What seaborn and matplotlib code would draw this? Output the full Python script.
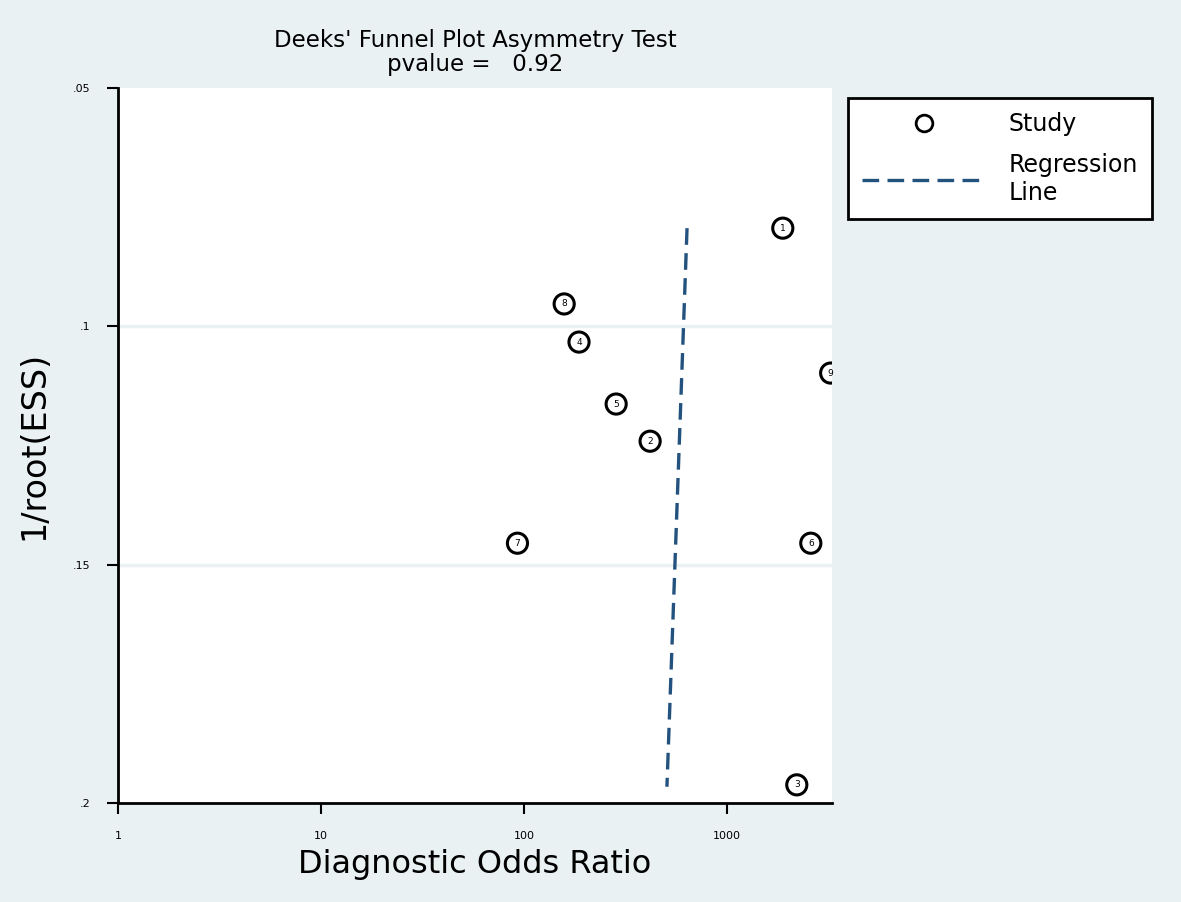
import matplotlib
matplotlib.use('Agg')
import matplotlib.pyplot as plt
from matplotlib.lines import Line2D
import seaborn as sns
import pandas as pd

# study points
study_ids = ['1', '8', '4', '5', '2', '7', '9', '6', '3']
dor = [1888, 158, 187, 285, 419, 93, 3250, 2594, 2213]
inv_root_ess = [0.0794, 0.0953, 0.1033, 0.1163, 0.1241, 0.1455, 0.1098, 0.1455, 0.1962]

# fitted regression line end points
reg_y = [0.0794, 0.1966]
reg_x = [637, 507]

x_ticks = [1, 10, 100, 1000]
x_tick_labels = ['1', '10', '100', '1000']
y_ticks = [0.05, 0.1, 0.15, 0.2]
y_tick_labels = ['.05', '.1', '.15', '.2']

bg = '#eaf1f3'
line_col = '#24527f'

sns.set_theme(style='white')
plt.rcParams['font.family'] = ['DejaVu Sans']
plt.rcParams['text.color'] = 'black'
plt.rcParams['axes.labelcolor'] = 'black'
plt.rcParams['xtick.color'] = 'black'
plt.rcParams['ytick.color'] = 'black'

studies = pd.DataFrame({'dor': dor, 'y': inv_root_ess, 'id': study_ids})
reg = pd.DataFrame({'dor': reg_x, 'y': reg_y})

fig = plt.figure(figsize=(11.81, 9.02), dpi=100, facecolor=bg)
ax = fig.add_axes([0.0999, 0.1098, 0.6046, 0.7926])
ax.set_facecolor('white')

for yy in [0.1, 0.15]:
    ax.axhline(yy, color=bg, lw=2.5, zorder=0)

sns.lineplot(data=reg, x='dor', y='y', ax=ax, color=line_col, lw=2.4,
             linestyle=(0, (5, 2.5)), sort=False, estimator=None, zorder=2)
sns.scatterplot(data=studies, x='dor', y='y', ax=ax, s=210, marker='o',
                facecolor='none', edgecolor='black', linewidth=2.2, zorder=3)
for _, r in studies.iterrows():
    ax.text(r['dor'], r['y'], r['id'], fontsize=6.5, ha='center', va='center',
            color='black', zorder=4)

ax.set_xscale('log')
ax.set_xlim(1, 3300)
ax.set_ylim(0.2, 0.05)
ax.set_xticks(x_ticks)
ax.set_xticklabels(x_tick_labels)
ax.minorticks_off()
ax.set_yticks(y_ticks)
ax.set_yticklabels(y_tick_labels)
ax.tick_params(axis='both', which='major', labelsize=8, length=8, width=1.5,
               direction='out', left=True, bottom=True, pad=12)

for side in ['top', 'right']:
    ax.spines[side].set_visible(False)
for side in ['left', 'bottom']:
    ax.spines[side].set_color('black')
    ax.spines[side].set_linewidth(2)

ax.set_xlabel('Diagnostic Odds Ratio', fontsize=23, labelpad=6)
ax.set_ylabel('1/root(ESS)', fontsize=24, labelpad=16)
ax.set_title("Deeks' Funnel Plot Asymmetry Test\npvalue =   0.92",
             fontsize=16.5, linespacing=1.1, pad=12)

handles = [
    Line2D([], [], marker='o', linestyle='none', markerfacecolor='none',
           markeredgecolor='black', markeredgewidth=2, markersize=12),
    Line2D([], [], color=line_col, lw=2.4, linestyle=(0, (5, 2.5))),
]
leg = fig.legend(handles, ['Study', 'Regression\nLine'], loc='upper left',
                 bbox_to_anchor=(0.718, 0.891), borderaxespad=0, fontsize=17,
                 frameon=True, fancybox=False, facecolor='white', framealpha=1,
                 edgecolor='black', handlelength=5.2, handletextpad=1.0,
                 borderpad=0.6, labelspacing=0.7)
leg.get_frame().set_linewidth(2)

fig.savefig('out.png', dpi=100, facecolor=bg)
